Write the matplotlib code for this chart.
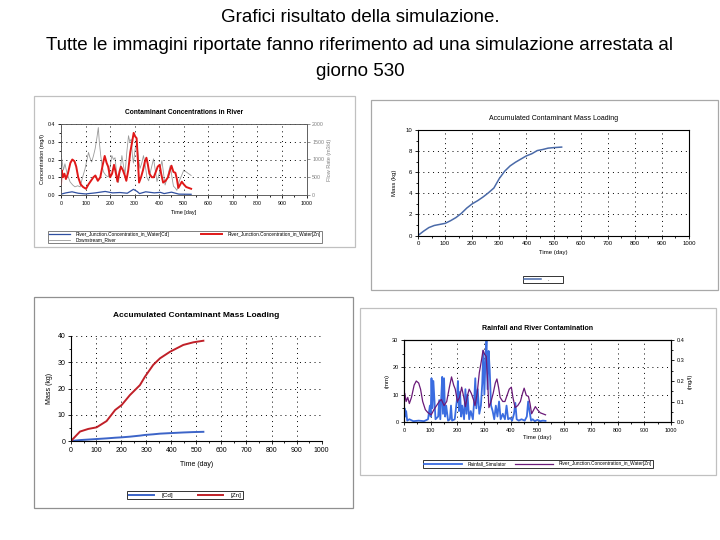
import matplotlib.pyplot as plt
from matplotlib.patches import Rectangle
from matplotlib.ticker import MultipleLocator, FormatStrFormatter

plt.rcParams["font.family"] = ["Liberation Sans", "DejaVu Sans"]

W, H = 720, 540

# slide title
title_lines = [
    "Grafici risultato della simulazione.",
    "Tutte le immagini riportate fanno riferimento ad una simulazione arrestata al",
    "giorno 530",
]

# Zn concentration in river (mg/l), used in two charts
zn_day = [0, 3, 8, 14, 20, 28, 38, 46, 55, 62, 70, 80, 90, 102, 112, 122, 132, 140, 150, 160,
          170, 178, 186, 192, 200, 208, 216, 224, 230, 238, 244, 252, 260, 266, 274, 282, 290,
          296, 302, 308, 313, 318, 326, 334, 342, 348, 354, 360, 370, 378, 386, 394, 402, 408,
          416, 426, 436, 444, 450, 458, 466, 472, 478, 486, 492, 500, 510, 520, 530]
zn_conc = [0.06, 0.14, 0.1, 0.12, 0.09, 0.12, 0.18, 0.2, 0.19, 0.16, 0.1, 0.06, 0.045, 0.035,
           0.06, 0.08, 0.1, 0.11, 0.08, 0.1, 0.17, 0.22, 0.18, 0.16, 0.1, 0.12, 0.17, 0.12,
           0.075, 0.13, 0.16, 0.14, 0.11, 0.08, 0.14, 0.24, 0.3, 0.35, 0.33, 0.32, 0.2, 0.07,
           0.1, 0.14, 0.19, 0.21, 0.17, 0.12, 0.1, 0.1, 0.13, 0.16, 0.17, 0.12, 0.07, 0.08,
           0.1, 0.14, 0.165, 0.13, 0.125, 0.09, 0.04, 0.06, 0.075, 0.06, 0.045, 0.04, 0.035]

# Cd concentration in river (mg/l)
cd_day = [0, 20, 45, 70, 100, 140, 180, 210, 240, 270, 295, 310, 320, 345, 380, 405, 420, 450, 480, 530]
cd_conc = [0.005, 0.012, 0.018, 0.01, 0.006, 0.012, 0.02, 0.012, 0.014, 0.01, 0.032, 0.02,
           0.008, 0.018, 0.012, 0.015, 0.008, 0.016, 0.005, 0.004]

# downstream river flow rate (m3/d)
flow_day = [0, 3, 10, 16, 25, 37, 48, 57, 68, 78, 88, 98, 106, 112, 118, 125, 132, 139, 146, 152,
            156, 162, 168, 173, 183, 193, 200, 207, 214, 220, 227, 234, 241, 248, 255, 261, 268,
            275, 280, 286, 291, 295, 302, 309, 316, 322, 329, 336, 344, 350, 357, 366, 377, 384,
            391, 400, 411, 418, 424, 433, 445, 452, 458, 465, 472, 482, 492, 500, 510, 520, 530]
flow_rate = [200, 1020, 700, 880, 600, 370, 280, 230, 260, 230, 500, 740, 1000, 1200, 1050, 930,
             1100, 1300, 1600, 1900, 1500, 1100, 800, 650, 550, 510, 800, 1110, 1000, 1050, 600,
             350, 700, 1110, 800, 600, 1200, 1670, 1500, 1574, 1100, 900, 1300, 1480, 1000, 750,
             900, 1110, 800, 500, 400, 700, 1020, 700, 380, 600, 970, 600, 280, 500, 830, 500,
             250, 200, 130, 400, 560, 700, 650, 600, 550]

# accumulated mass, top right chart (kg)
mass_day = [0, 20, 40, 60, 80, 100, 120, 140, 160, 180, 200, 220, 240, 260, 280, 300, 320, 340,
            360, 380, 400, 420, 440, 460, 480, 500, 530]
mass_kg = [0, 0.4, 0.75, 0.95, 1.05, 1.15, 1.4, 1.7, 2.1, 2.6, 3.0, 3.3, 3.65, 4.05, 4.5, 5.4,
           6.1, 6.6, 6.95, 7.25, 7.55, 7.75, 8.05, 8.15, 8.28, 8.33, 8.38]

# accumulated Cd / Zn mass, bottom left chart (kg)
acc_day = [0, 36, 69, 102, 142, 176, 202, 235, 275, 295, 328, 355, 395, 448, 488, 528]
acc_zn = [0, 3.6, 4.6, 5.2, 7.6, 11.8, 13.7, 17.5, 21.3, 24.5, 29, 31.5, 34, 36.6, 37.6, 38.2]
acc_cd = [0, 0.35, 0.55, 0.75, 1.0, 1.25, 1.4, 1.65, 2.05, 2.3, 2.55, 2.8, 3.0, 3.25, 3.4, 3.5]

# rainfall (mm)
rain_day = [0, 2, 5, 8, 12, 20, 35, 55, 75, 90, 97, 100, 103, 106, 110, 118, 128, 132, 136, 140,
            143, 146, 150, 154, 158, 165, 172, 176, 180, 190, 198, 202, 206, 210, 214, 218, 225,
            230, 234, 238, 244, 250, 258, 263, 267, 271, 276, 282, 288, 293, 297, 301, 305, 309,
            313, 317, 321, 326, 332, 338, 344, 350, 356, 362, 370, 378, 384, 390, 398, 405, 412,
            417, 422, 430, 440, 452, 460, 465, 470, 476, 482, 490, 500, 510, 520, 530]
rain_mm = [1, 5, 2, 4, 0.5, 1, 0.3, 0.5, 0.3, 1, 6, 2, 16, 5, 15, 1, 2, 8, 1, 10, 16.5, 3, 16, 2,
           6, 0.5, 1, 6, 0.5, 1, 8, 15, 4, 11, 2, 6, 1, 12, 3, 10, 1, 4, 1, 8, 16, 5, 12, 3, 6, 14,
           26, 10, 22, 30, 12, 26, 19, 6, 4, 1, 6, 2, 7.5, 1, 3, 1, 6, 1, 1.5, 0.5, 3, 7, 1, 0.5,
           1, 0.5, 2, 7.5, 4, 0.5, 1, 0.3, 0.8, 0.3, 0.5, 0.4]

time_ticks = list(range(0, 1001, 100))


def rect(x0, y0, x1, y1):
    return [x0 / W, 1 - y1 / H, (x1 - x0) / W, (y1 - y0) / H]


def frame(fig, x0, y0, x1, y1, color="#a8a8a8"):
    fig.patches.append(Rectangle((x0 / W, 1 - y1 / H), (x1 - x0) / W, (y1 - y0) / H,
                                 transform=fig.transFigure, facecolor="white",
                                 edgecolor=color, lw=0.9, zorder=-5))


def style_axes(ax, ystep, fs=4.5):
    ax.set_xlim(0, 1000)
    ax.set_xticks(time_ticks)
    ax.xaxis.set_minor_locator(MultipleLocator(50))
    ax.yaxis.set_major_locator(MultipleLocator(ystep))
    ax.yaxis.set_minor_locator(MultipleLocator(ystep / 2))
    ax.tick_params(labelsize=fs, length=2, width=0.6, pad=2)
    ax.tick_params(which="minor", length=1.5, width=0.6)
    ax.grid(True, color="black", lw=0.7, linestyle=(0, (1, 4)))
    for s in ax.spines.values():
        s.set_linewidth(0.8)


def box_legend(fig, handles, labels, box, ncol, fs, hl, edge="black"):
    x0, y0, x1, y1 = box
    leg = fig.legend(handles, labels, loc="center",
                     bbox_to_anchor=(x0 / W, 1 - y1 / H, (x1 - x0) / W, (y1 - y0) / H),
                     mode="expand", ncol=ncol, fontsize=fs, frameon=True, fancybox=False,
                     edgecolor=edge, borderpad=0.25, labelspacing=0.1, handlelength=hl,
                     handletextpad=1.2, columnspacing=1.0, borderaxespad=0)
    leg.get_frame().set_linewidth(0.7)
    return leg


fig = plt.figure(figsize=(W / 100, H / 100), dpi=100)

for i, line in enumerate(title_lines):
    fig.text(0.5, 1 - (18 + 27 * i) / H, line, ha="center", va="center", fontsize=13.5)

# --- top left: concentrations in river
frame(fig, 34, 96, 355, 247, "#c0c0c0")
ax1 = fig.add_axes(rect(61, 124, 306.5, 195))
ax1b = ax1.twinx()
flow_line, = ax1b.plot(flow_day, flow_rate, color="#9a9a9a", lw=0.6)
cd_line, = ax1.plot(cd_day, cd_conc, color="#2f4fa0", lw=0.9)
zn_line, = ax1.plot(zn_day, zn_conc, color="#e01818", lw=1.4)
ax1.set_zorder(ax1b.get_zorder() + 1)
ax1.patch.set_visible(False)
ax1.set_ylim(0, 0.4)
style_axes(ax1, 0.1, 3.8)
ax1.yaxis.set_major_formatter(FormatStrFormatter("%.1f"))
ax1b.set_ylim(0, 2000)
ax1b.set_yticks([0, 500, 1000, 1500, 2000])
ax1b.tick_params(labelsize=3.8, length=2, width=0.6, pad=2, colors="#808080")
for s in list(ax1.spines.values()) + list(ax1b.spines.values()):
    s.set_color("#606060")
    s.set_linewidth(0.6)
ax1.set_title("Contaminant Concentrations in River", fontsize=4.8, fontweight="bold", pad=7)
ax1.set_xlabel("Time [day]", fontsize=4, labelpad=3)
ax1.set_ylabel("Concentration (mg/l)", fontsize=4, labelpad=2)
ax1b.set_ylabel("Flow Rate (m3/d)", fontsize=4, color="#808080", labelpad=2)
box_legend(fig, [cd_line, flow_line, zn_line],
           ["River_Junction.Concentration_in_Water[Cd]", "Downstream_River",
            "River_Junction.Concentration_in_Water[Zn]"],
           (48, 229, 322, 245), 2, 3.4, 4.5, "#606060")

# --- top right: accumulated mass loading
frame(fig, 371, 100, 718, 290)
ax2 = fig.add_axes(rect(418, 130, 689, 235.5))
m_line, = ax2.plot(mass_day, mass_kg, color="#4a6aa8", lw=1.1)
ax2.set_ylim(0, 10)
style_axes(ax2, 2, 4.3)
ax2.set_title("Accumulated Contaminant Mass Loading", fontsize=5, pad=7)
ax2.set_xlabel("Time (day)", fontsize=4.3, labelpad=3)
ax2.set_ylabel("Mass (kg)", fontsize=4.3, labelpad=6)
box_legend(fig, [m_line], ["."], (523, 273, 563, 286), 1, 4, 3)

# --- bottom left: accumulated Cd and Zn mass
frame(fig, 34, 297, 353, 508, "#909090")
ax3 = fig.add_axes(rect(71, 336, 321.7, 441))
cd_m, = ax3.plot(acc_day, acc_cd, color="#3c64c8", lw=1.4)
zn_m, = ax3.plot(acc_day, acc_zn, color="#c02028", lw=1.4)
ax3.set_ylim(0, 40)
style_axes(ax3, 10, 5)
ax3.spines["top"].set_visible(False)
ax3.spines["right"].set_visible(False)
ax3.set_title("Accumulated Contaminant Mass Loading", fontsize=6, fontweight="bold", pad=14)
ax3.set_xlabel("Time (day)", fontsize=5, labelpad=5)
ax3.set_ylabel("Mass (kg)", fontsize=5, labelpad=3)
box_legend(fig, [cd_m, zn_m], ["[Cd]", "[Zn]"], (127, 489, 243, 501), 2, 4.5, 4)

# --- bottom right: rainfall and river contamination
frame(fig, 360, 308, 716, 475, "#c0c0c0")
ax4 = fig.add_axes(rect(404, 340, 671, 422))
ax4b = ax4.twinx()
rain_line, = ax4.plot(rain_day, rain_mm, color="#3a6ce0", lw=1.3)
zn4_line, = ax4b.plot(zn_day, zn_conc, color="#6a1a78", lw=0.9)
ax4.set_ylim(0, 30)
style_axes(ax4, 10, 4)
ax4b.set_ylim(0, 0.4)
ax4b.yaxis.set_major_locator(MultipleLocator(0.1))
ax4b.yaxis.set_minor_locator(MultipleLocator(0.05))
ax4b.yaxis.set_major_formatter(FormatStrFormatter("%.1f"))
ax4b.tick_params(labelsize=4, length=2, width=0.6, pad=2)
ax4b.tick_params(which="minor", length=1.5, width=0.6)
for s in ax4b.spines.values():
    s.set_linewidth(0.8)
ax4.set_title("Rainfall and River Contamination", fontsize=5, fontweight="bold", pad=7)
ax4.set_xlabel("Time (day)", fontsize=4.3, labelpad=2)
ax4.set_ylabel("(mm)", fontsize=4.3, labelpad=2)
ax4b.set_ylabel("(mg/l)", fontsize=4.3, labelpad=2)
box_legend(fig, [rain_line, zn4_line],
           ["Rainfall_Simulator", "River_Junction.Concentration_in_Water[Zn]"],
           (423, 459, 653, 469), 2, 3.4, 8)

fig.savefig("out.png", dpi=100)
